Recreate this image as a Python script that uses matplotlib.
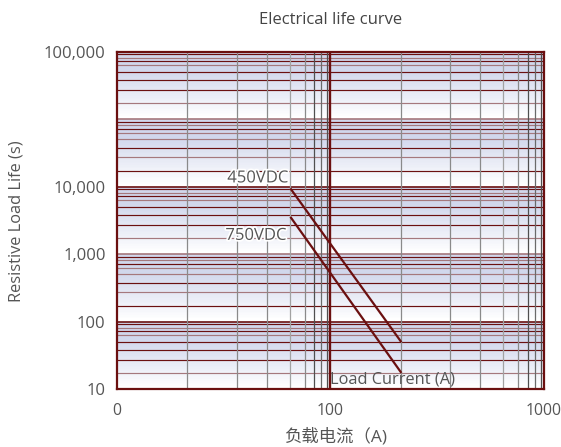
import numpy as np
import matplotlib
matplotlib.use("Agg")
import matplotlib.pyplot as plt
import matplotlib.patheffects as pe
from matplotlib.colors import to_rgb
from matplotlib.transforms import blended_transform_factory

plt.rcParams['font.family'] = ['Open Sans', 'Noto Sans CJK SC', 'DejaVu Sans']

# ---------------- data ----------------
current_450 = [65, 215]
life_450 = [9500, 50]
current_750 = [65, 215]
life_750 = [3600, 17.5]
series_names = ["450VDC", "750VDC"]
x_ticks = [10, 100, 1000]
x_tick_labels = ["0", "100", "1000"]
y_ticks = [10, 100, 1000, 10000, 1000000]
y_tick_labels = ["10", "100", "1,000", "10,000", "100,000"]
title = "Electrical life curve"
xlabel = "负载电流（A)"
ylabel = "Resistive Load Life (s)"
inner_note = "Load Current (A)"

# ---------------- styles ----------------
DARK = '#6b1010'
ROSE = '#a5787d'
LAV = '#d1d7ec'
TXT = '#555555'
x_minor_frac = [0.33, 0.561, 0.702, 0.81, 0.88, 0.923, 0.958, 0.984]
x_minor_col = ['#8a8a8a', '#8a8a8a', '#8a8a8a', '#a2a2a2', '#8a8a8a', '#4f4f4f', '#6a6a6a', '#4f4f4f']
y_minor_frac = [0.237, 0.44, 0.58, 0.705, 0.80, 0.86, 0.915, 0.965]
y_minor_col = [[ROSE, DARK, DARK, DARK, ROSE, DARK, ROSE, DARK],
               [DARK, ROSE, DARK, ROSE, ROSE, DARK, ROSE, DARK]]

fig = plt.figure(figsize=(5.61, 4.47), dpi=100)
L, R, B, T = 116.7, 544.0, 389.3, 52.0
ax = fig.add_axes([L / 561, 1 - B / 447, (R - L) / 561, (B - T) / 447])
ax.set_xscale('log')
ax.set_yscale('log')
ax.set_xlim(10, 1000)
ax.set_ylim(10, 1e6)

# gradient bands per decade
w = np.array(to_rgb('white'))
lav = np.array(to_rgb(LAV))
n = 40
for d in range(1, 6):
    for k in range(n):
        f0, f1 = k / n, (k + 1) / n
        fm = (f0 + f1) / 2
        t = np.clip((fm - 0.03) / 0.7, 0, 1)
        c = w * (1 - t) + lav * t
        ax.axhspan(10 ** (d + f0), 10 ** (d + f1), color=c, lw=0, zorder=0)

# horizontal grid lines
for i, d in enumerate(range(1, 6)):
    cols = y_minor_col[i % 2]
    for fr, col in zip(y_minor_frac, cols):
        ax.axhline(10 ** (d + fr), color=col, lw=0.85, zorder=1)
    if d > 1:
        ax.axhline(10 ** d, color=DARK if d % 2 == 0 else ROSE, lw=1.2, zorder=1)

# vertical grid lines
for dec in [10, 100]:
    for fr, col in zip(x_minor_frac, x_minor_col):
        ax.axvline(dec * 10 ** fr, color=col, lw=0.9, zorder=2)
ax.axvline(100, color=DARK, lw=1.7, zorder=3)

# series
ax.plot(current_450, life_450, color=DARK, lw=1.6, zorder=5, solid_capstyle='butt')
ax.plot(current_750, life_750, color=DARK, lw=1.6, zorder=5, solid_capstyle='butt')

halo = [pe.withStroke(linewidth=2.5, foreground='white')]
ax.annotate(series_names[0], xy=(current_450[0], life_450[0]), xytext=(-2, 10),
            textcoords='offset pixels', ha='right', va='center', fontsize=12,
            color=TXT, path_effects=halo, zorder=6)
ax.annotate(series_names[1], xy=(current_750[0], life_750[0]), xytext=(-4, -19),
            textcoords='offset pixels', ha='right', va='center', fontsize=12,
            color=TXT, path_effects=halo, zorder=6)
ax.text(100, 0.028, inner_note, transform=blended_transform_factory(ax.transData, ax.transAxes),
        ha='left', va='center', fontsize=11.8, color=TXT, zorder=6)

for s in ax.spines.values():
    s.set_color(DARK)
    s.set_linewidth(1.6)
    s.set_zorder(7)

ax.set_xticks(x_ticks)
ax.set_xticklabels(x_tick_labels)
ax.set_yticks(y_ticks)
ax.set_yticklabels(y_tick_labels)
ax.minorticks_off()
ax.tick_params(length=0, labelsize=12, colors=TXT)
ax.tick_params(axis='x', pad=10, labelsize=11.3)
ax.tick_params(axis='y', pad=8)

fig.text(331 / 561, 1 - 20 / 447, title, ha='center', va='center', fontsize=12, color='#444444')
fig.text(336 / 561, 1 - 437 / 447, xlabel, ha='center', va='center', fontsize=12.5, color=TXT)
fig.text(17 / 561, 1 - 221 / 447, ylabel, ha='center', va='center', rotation=90, fontsize=11.8, color=TXT)

fig.savefig('out.png', dpi=100)
